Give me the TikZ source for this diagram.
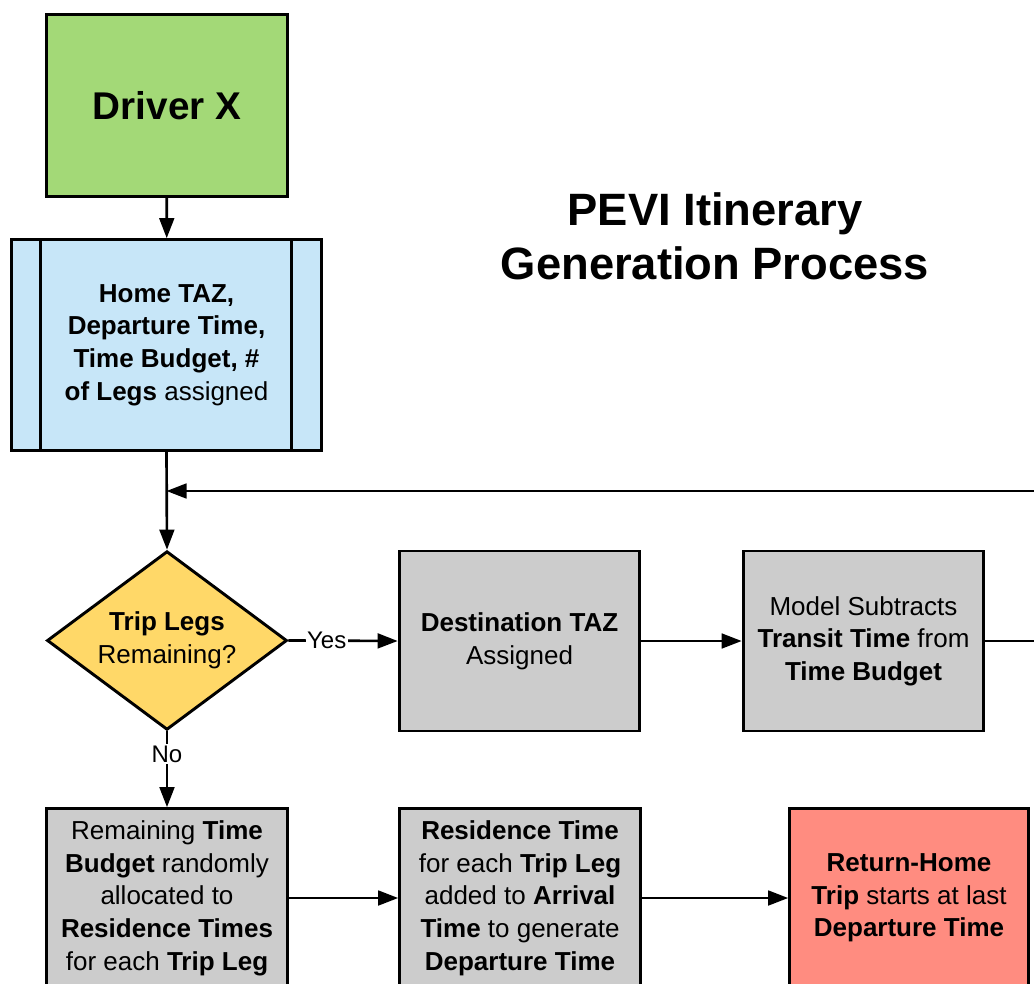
\documentclass[tikz,border=0pt]{standalone}
\usepackage{fontspec}
\setmainfont{Liberation Sans}
\usetikzlibrary{calc}
\usetikzlibrary{positioning}
\usetikzlibrary{shapes.geometric}
\usetikzlibrary{arrows.meta}

\definecolor{drivergreen}{RGB}{163,217,119}
\definecolor{homeblue}{RGB}{199,230,248}
\definecolor{legsyellow}{RGB}{255,216,104}
\definecolor{stepgray}{RGB}{204,204,204}
\definecolor{returnred}{RGB}{255,140,128}

\begin{document}
\begin{tikzpicture}[x=0.75pt,y=-0.75pt,
every node/.style={font=\fontsize{19.5}{24.5}\selectfont},
box/.style={draw,line width=2.2pt,align=center,inner sep=0pt,minimum width=180.5pt,minimum height=135pt},
flow/.style={line width=2pt,-{Triangle[length=15pt,width=11pt]}},
lbl/.style={fill=white,inner sep=1pt,font=\fontsize{18}{22}\selectfont}]

\clip (0,0) rectangle (1034,984);
\fill[white] (0,0) rectangle (1034,984);

\node[box,fill=drivergreen,minimum height=136pt,font=\fontsize{29}{34}\selectfont\bfseries] (driver) at (167,105.5) {Driver X};
\node[box,fill=homeblue,minimum width=233pt,minimum height=158pt] (home) at (166.5,345) {\textbf{Home TAZ,}\\\textbf{Departure Time,}\\\textbf{Time Budget, \#}\\\textbf{of Legs} assigned};
\draw[line width=2.2pt] ($(home.north west)+(31,0)$) -- ($(home.south west)+(31,0)$);
\draw[line width=2.2pt] ($(home.north east)+(-32,0)$) -- ($(home.south east)+(-32,0)$);

\node[align=center,font=\fontsize{34}{40.5}\selectfont\bfseries] (title) at (715,236) {PEVI Itinerary\\Generation Process};

\node[draw,diamond,line width=2.2pt,fill=legsyellow,align=center,inner sep=0pt,aspect=1.34,minimum width=180pt,minimum height=134pt] (legs) at (167,640.5) {\textbf{Trip Legs}\\Remaining?};

\node[box,fill=stepgray] (dest) at (519.5,641) {\textbf{Destination TAZ}\\Assigned};
\node[box,fill=stepgray] (model) at (863.5,641) {Model Subtracts\\\textbf{Transit Time} from\\\textbf{Time Budget}};

\node[box,fill=stepgray,minimum height=134pt] (alloc) at (167,898) {Remaining \textbf{Time}\\\textbf{Budget} randomly\\allocated to\\\textbf{Residence Times}\\for each \textbf{Trip Leg}};
\node[box,fill=stepgray,minimum height=134pt] (resid) at (520,898) {\textbf{Residence Time}\\for each \textbf{Trip Leg}\\added to \textbf{Arrival}\\\textbf{Time} to generate\\\textbf{Departure Time}};
\node[box,fill=returnred,minimum width=179pt,minimum height=134pt] (return) at (909,898) {\textbf{Return-Home}\\\textbf{Trip} starts at last\\\textbf{Departure Time}};

% connectors
\coordinate (loop in) at (1040,491);
\coordinate (model out) at (1040,641);
\draw[flow] (driver) -- (home);
\draw[flow] (home.south) -- (legs.north);
\draw[flow] (loop in) -- (loop in -| home.south);
\draw[flow] (legs.east) -- node[lbl,pos=0.35] {Yes} (dest.west);
\draw[flow] (legs.south) -- node[lbl,pos=0.3] {No} (alloc.north);
\draw[flow] (dest) -- (model);
\draw[line width=2pt] (model.east) -- (model out);
\draw[flow] (alloc) -- (resid);
\draw[flow] (resid) -- (return);
\end{tikzpicture}
\end{document}
